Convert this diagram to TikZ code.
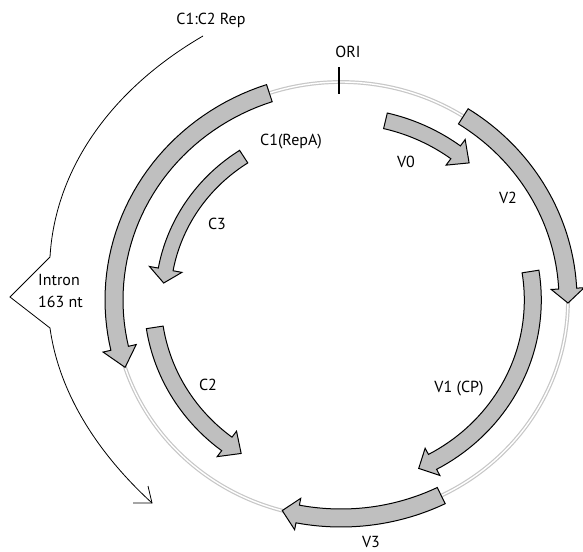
\documentclass[tikz,border=0pt]{standalone}
\usepackage{fontspec}
\setmainfont{PT Sans}
\tikzset{
  gene/.style={draw=black, line width=1pt, fill=black!25, line join=miter},
  lbl/.style={font=\fontsize{16}{19}\selectfont, inner sep=0pt, anchor=base},
  brk/.style={line width=0.8pt}
}
% #1 radius factor, #2 start angle, #3 head base angle, #4 tip angle, #5 half width, #6 head half width
\newcommand{\garrow}[6]{%
  \pgfmathsetmacro{\ga}{227*#1}\pgfmathsetmacro{\gb}{218*#1}%
  \draw[gene] plot[domain=#2:#3,samples=40] ({341+(\ga+#5)*cos(\x)},{300+(\gb+#5)*sin(\x)})
    -- ({341+(\ga+#6)*cos(#3)},{300+(\gb+#6)*sin(#3)})
    -- ({341+\ga*cos(#4)},{300+\gb*sin(#4)})
    -- ({341+(\ga-#6)*cos(#3)},{300+(\gb-#6)*sin(#3)})
    -- plot[domain=#3:#2,samples=40] ({341+(\ga-#5)*cos(\x)},{300+(\gb-#5)*sin(\x)})
    -- cycle;}
\begin{document}
\begin{tikzpicture}[x=1pt,y=-1pt]
\useasboundingbox (0,0) rectangle (583,551);
% genome circle (double line)
\draw[line width=3.8pt, black!22] (341,300) ellipse [x radius=227, y radius=218];
\draw[line width=1.4pt, white] (341,300) ellipse [x radius=227, y radius=218];
% ORI
\coordinate (orit) at (339,67);
\coordinate (orib) at (339,94);
\draw[line width=2pt] (orit) -- (orib);
% genes
\garrow{1}{251.6}{167.2}{162}{9}{17}      % C1
\garrow{1}{302.6}{357}{360.8}{9}{16.5}    % V2
\garrow{1}{63.8}{101}{105}{9}{16}         % V3
\garrow{0.845}{283.4}{306.7}{311.9}{8}{16} % V0
\garrow{0.845}{-8.9}{61.5}{66.1}{8.5}{15.5} % V1
\garrow{0.785}{236.9}{190.3}{185.7}{7.5}{16.5} % C3
\garrow{0.83}{171.3}{127.3}{122}{8.5}{16} % C2
% labels
\node[lbl] (rep) at (211,25) {C1:C2 Rep};
\node[lbl] (ori) at (348,58) {ORI};
\node[lbl] (c1) at (291,145) {C1(RepA)};
\node[lbl] (v0) at (406,167) {V0};
\node[lbl] (v2) at (508,203) {V2};
\node[lbl] (c3) at (217,229) {C3};
\node[lbl, anchor=base west] (intron) at (38,285) {Intron};
\node[lbl, anchor=base west] (nt) at (38,307) {163 nt};
\node[lbl] (c2) at (208,390) {C2};
\node[lbl] (v1) at (459,392) {V1 (CP)};
\node[lbl] (v3) at (371,547) {V3};
% intron bracket
\coordinate (bs) at (203,36);
\coordinate (b1) at (50,257);
\coordinate (bv) at (10,297);
\coordinate (b2) at (50,328);
\coordinate (be) at (152,503);
\coordinate (bh1) at (133,503);
\coordinate (bh2) at (148,486);
\draw[brk] (bs) .. controls (110,90) and (55,170) .. (b1) -- (bv) -- (b2) .. controls (60,400) and (105,460) .. (be);
\draw[brk] (bh1) -- (be) -- (bh2);
\end{tikzpicture}
\end{document}
